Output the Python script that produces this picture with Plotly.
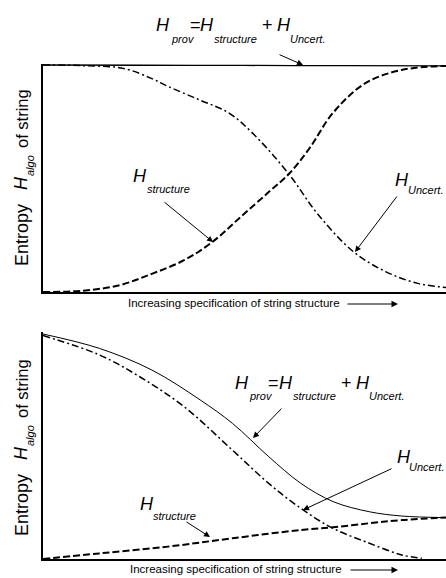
import plotly.graph_objects as go

W, H = 446, 578

# ---------------- data ----------------
# Top panel
top_prov_x = [0.0, 0.25, 0.5, 0.75, 1.0]
top_prov_y = [1.0, 0.999, 0.998, 0.997, 0.996]

top_struct_x = [0.0, 0.10, 0.19, 0.27, 0.35, 0.42, 0.49, 0.56, 0.61, 0.66, 0.72, 0.80, 0.89, 1.0]
top_struct_y = [0.0, 0.006, 0.03, 0.08, 0.14, 0.22, 0.33, 0.44, 0.52, 0.63, 0.79, 0.92, 0.978, 0.996]

top_unc_x = [0.0, 0.10, 0.20, 0.27, 0.31, 0.39, 0.46, 0.52, 0.61, 0.68, 0.77, 0.85, 0.93, 1.0]
top_unc_y = [1.0, 0.997, 0.985, 0.94, 0.906, 0.845, 0.79, 0.70, 0.52, 0.347, 0.178, 0.09, 0.038, 0.02]

# Bottom panel
bot_prov_x = [0.0, 0.14, 0.27, 0.39, 0.47, 0.56, 0.64, 0.72, 0.81, 0.89, 1.0]
bot_prov_y = [1.0, 0.936, 0.84, 0.707, 0.603, 0.455, 0.336, 0.255, 0.21, 0.191, 0.184]

bot_unc_x = [0.0, 0.14, 0.24, 0.35, 0.47, 0.56, 0.64, 0.72, 0.81, 0.89, 0.94]
bot_unc_y = [0.993, 0.907, 0.81, 0.677, 0.484, 0.336, 0.225, 0.136, 0.07, 0.018, 0.003]

bot_struct_x = [0.0, 0.14, 0.31, 0.47, 0.64, 0.72, 0.81, 0.89, 1.0]
bot_struct_y = [0.0, 0.025, 0.055, 0.092, 0.129, 0.141, 0.159, 0.173, 0.184]

# label texts
SYM = "H"
SUB_PROV, SUB_STRUCT, SUB_UNC, SUB_ALGO = "prov", "structure", "Uncert.", "algo"
XLAB = "Increasing specification of string structure"

# ---------------- styles ----------------
FONT = "Liberation Sans, Arial, sans-serif"
SOLID = dict(color="black", width=1.3, shape="spline")
DASH = dict(color="black", width=2.0, dash="7px,3px", shape="spline")
DASHDOT = dict(color="black", width=1.5, dash="7px,3px,2px,3px", shape="spline")

fig = go.Figure()

def add(x, y, line, xa, ya, name):
    fig.add_trace(go.Scatter(x=x, y=y, mode="lines", line=line, xaxis=xa, yaxis=ya,
                             name=name, showlegend=False, hoverinfo="skip"))

add(top_prov_x, top_prov_y, SOLID, "x", "y", "H_prov")
add(top_struct_x, top_struct_y, DASH, "x", "y", "H_structure")
add(top_unc_x, top_unc_y, DASHDOT, "x", "y", "H_Uncert.")
add(bot_prov_x, bot_prov_y, dict(SOLID, width=1.0), "x2", "y2", "H_prov")
add(bot_struct_x, bot_struct_y, DASH, "x2", "y2", "H_structure")
add(bot_unc_x, bot_unc_y, DASHDOT, "x2", "y2", "H_Uncert.")

ax_common = dict(showline=True, linecolor="black", linewidth=1.5, showgrid=False,
                 zeroline=False, showticklabels=False, ticks="", fixedrange=True)

fig.update_layout(
    width=W, height=H,
    margin=dict(l=0, r=0, t=0, b=0),
    paper_bgcolor="white", plot_bgcolor="white",
    font=dict(family=FONT, color="black"),
    xaxis=dict(ax_common, domain=[43 / W, 1.0], range=[0, 1.0], anchor="y"),
    yaxis=dict(ax_common, domain=[1 - 292 / H, 1 - 64 / H], range=[0, 1.0044], anchor="x"),
    xaxis2=dict(ax_common, domain=[43 / W, 1.0], range=[0, 1.0], anchor="y2"),
    yaxis2=dict(ax_common, domain=[1 - 559 / H, 1 - 332 / H], range=[0, 1.0089], anchor="x2"),
)

def P(px, py):
    return px / W, 1 - py / H

def text(s, px, py, size=18, italic=False, xanchor="left", angle=0):
    x, y = P(px, py)
    fig.add_annotation(text=("<i>%s</i>" % s) if italic else s, x=x, y=y,
                       xref="paper", yref="paper", showarrow=False,
                       xanchor=xanchor, yanchor="middle", textangle=angle,
                       borderpad=0, borderwidth=0,
                       font=dict(size=size, family=FONT, color="black"))

def arrow(hx, hy, tx, ty, size=1.2):
    x, y = P(hx, hy)
    fig.add_annotation(text="", x=x, y=y, xref="paper", yref="paper", showarrow=True,
                       ax=tx - hx, ay=ty - hy, arrowhead=2, arrowsize=size,
                       arrowwidth=1, arrowcolor="black")

HS, SS = 18, 11  # symbol and subscript font sizes

def formula(xs, yh, ys):
    # xs: left positions of H, prov, =, H, structure, +, H, Uncert.
    text(SYM, xs[0], yh, HS, True)
    text(SUB_PROV, xs[1], ys, SS, True)
    text("=", xs[2], yh, HS)
    text(SYM, xs[3], yh, HS, True)
    text(SUB_STRUCT, xs[4], ys, SS, True)
    text("+", xs[5], yh, HS)
    text(SYM, xs[6], yh, HS, True)
    text(SUB_UNC, xs[7], ys, SS, True)

def hsub(sub, px, yh, dx, ys):
    text(SYM, px, yh, HS, True)
    text(sub, px + dx, ys, SS, True)

def ylabel(c_of, c_algo, c_h, c_ent):
    text("of string", 22, c_of, 16.5, xanchor="center", angle=-90)
    text(SUB_ALGO, 30, c_algo, SS, True, xanchor="center", angle=-90)
    text(SYM, 21, c_h, HS, True, xanchor="center", angle=-90)
    text("Entropy", 22, c_ent, 18, xanchor="center", angle=-90)

# ---------- top panel labels ----------
formula([156, 171, 190, 200, 214, 262, 277, 290], 25, 39)
arrow(303, 65, 278, 54)
hsub(SUB_STRUCT, 133, 176, 14, 189)
arrow(213, 242, 163, 201)
hsub(SUB_UNC, 395, 180, 13, 190)
arrow(355, 252, 398, 195)
ylabel(119, 166, 183, 235)
text(XLAB, 128, 303, 11.5)
arrow(398, 304, 346, 304, size=1.3)

# ---------- bottom panel labels ----------
formula([235, 249, 268, 279, 293, 341, 356, 369], 383, 396)
arrow(253, 438, 283, 407)
hsub(SUB_UNC, 397, 457, 12, 467)
arrow(303, 510, 393, 468)
hsub(SUB_STRUCT, 140, 504, 13, 516)
arrow(210, 537, 185, 521)
ylabel(389, 436, 453, 505)
text(XLAB, 130, 569, 11.5)
arrow(398, 570, 349, 570, size=1.3)

fig.write_html("out.html", config={"displayModeBar": False},
               post_script="document.body.style.margin='0';")
